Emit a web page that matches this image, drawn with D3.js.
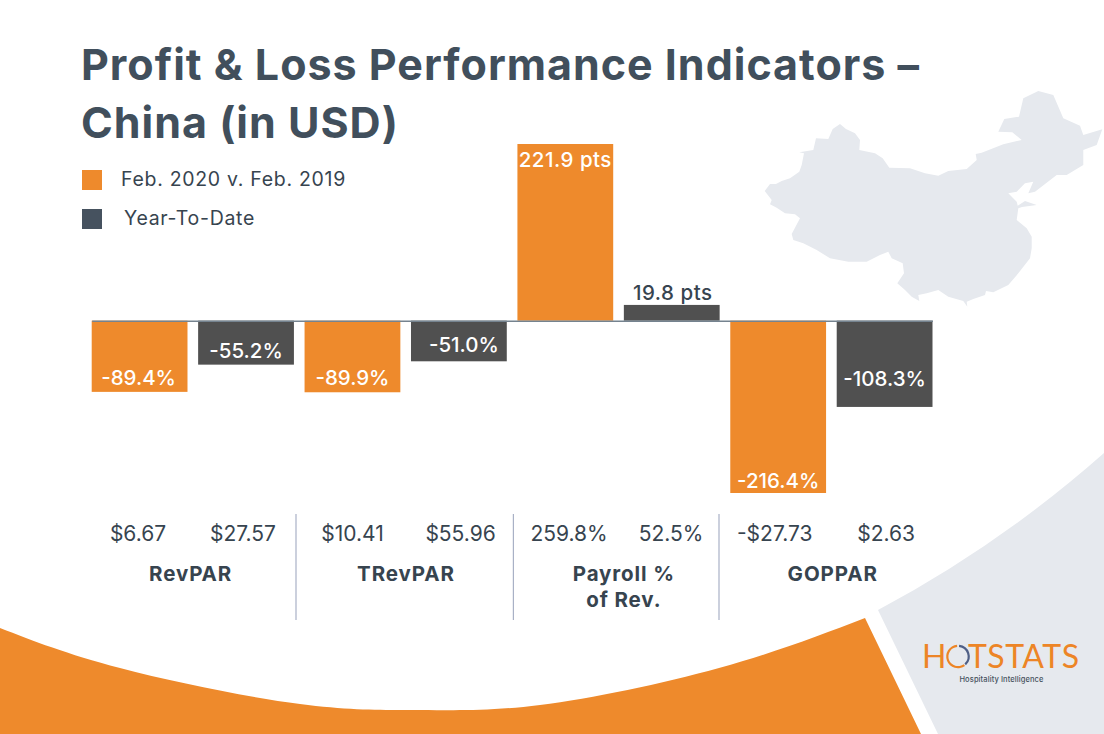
<!DOCTYPE html>
<html>
<head>
<meta charset="utf-8">
<script src="https://d3js.org/d3.v7.min.js"></script>
<style>
  html, body { margin: 0; padding: 0; background: #fff; }
  svg { display: block; }
  text { font-family: Inter, "Open Sans", sans-serif; }
</style>
</head>
<body>
<div id="chart"></div>
<script>
// chart values, in drawing order
var barKeys = ["RevPAR Feb", "RevPAR YTD", "TRevPAR Feb", "TRevPAR YTD", "Payroll Feb", "Payroll YTD", "GOPPAR Feb", "GOPPAR YTD"];
var barValues = [-89.4, -55.2, -89.9, -51.0, 221.9, 19.8, -216.4, -108.3];
var barLabels = ["-89.4%", "-55.2%", "-89.9%", "-51.0%", "221.9 pts", "19.8 pts", "-216.4%", "-108.3%"];
var actualLabels = ["$6.67", "$27.57", "$10.41", "$55.96", "259.8%", "52.5%", "-$27.73", "$2.63"];
var metricNames = [["RevPAR"], ["TRevPAR"], ["Payroll %", "of Rev."], ["GOPPAR"]];
var legendNames = ["Feb. 2020 v. Feb. 2019", "Year-To-Date"];
var titleLines = ["Profit & Loss Performance Indicators –", "China (in USD)"];

// china outline (background decoration, not data)
var chinaOutline = [[764.7,191],[770,184],[776,184],[781.7,181],[790,178.3],[799.3,171.7],[801.7,165],[804,153.3],[799.3,152.3],[813.3,150],[816,138.3],[828.3,139],[832.7,129],[840,124],[846,129],[855,133.3],[860,140],[859.3,150],[875,153.3],[882.7,158.3],[889.3,167.7],[910,168.3],[925,173.3],[938.3,175.7],[948.3,171],[966.7,169],[976.7,160],[975.7,154],[981.7,152.7],[1003.3,144.3],[1021.7,140],[1012.3,132.3],[998.3,131.7],[1004.3,119],[1019,116.7],[1023.3,98.3],[1038.3,91],[1053.3,95],[1063.3,118.3],[1080,125.7],[1083.3,135],[1102.3,129.3],[1096.7,145],[1083.3,150],[1083.3,165],[1066.7,175],[1056.7,175],[1035,191.7],[1028.3,193.3],[1033.3,181.7],[1025,183.3],[1016.7,191.7],[1008.3,193.3],[1016.7,201.7],[1017.7,205.7],[1025,201],[1036.7,205],[1022,207],[1018.3,208.3],[1016.7,220],[1026.7,228.3],[1031.7,236.7],[1031.7,248.3],[1030,258.3],[1018.3,273.3],[1008.3,285],[993.3,292.3],[986,291],[985,295],[973.3,299],[966.7,301.7],[967.3,306.7],[963.3,301],[948.3,296.7],[938.3,290],[926.7,293.3],[918.3,295],[919.3,301],[911.7,296.7],[905,290],[897.3,283.3],[904,273.3],[902.7,263.3],[891.7,258.3],[888.3,251.7],[880,255],[866.7,261.7],[848.3,261.7],[830,258.3],[816.7,250],[803.3,243.3],[793.3,240],[791.7,234],[800,218.3],[795,214.3],[785,213.3],[776.7,207.7],[770,204.3],[771.7,200]];
var orangeCurve = [[0,628],[120,668],[300,704],[420,710],[540,705],[719,668],[865,618]];

var orange = "#ee8a2c", dark = "#505050", slate = "#414f5c", ink = "#37444f", pale = "#e6e9ee";

var width = 1104, height = 734;

var svg = d3.select("#chart").append("svg")
    .attr("width", width)
    .attr("height", height);

// background shapes
svg.append("path")
    .attr("d", "M878,610 Q1000,545 1104,453 L1104,734 L938,734 Z")
    .attr("fill", pale);

svg.append("path")
    .attr("d", d3.line().curve(d3.curveNatural)(orangeCurve) + "L921,734L0,734Z")
    .attr("fill", orange);

svg.append("path")
    .attr("d", d3.line().curve(d3.curveLinear)(chinaOutline) + "Z")
    .attr("fill", pale);

// title
svg.selectAll(".title")
    .data(titleLines)
    .enter().append("text")
    .attr("class", "title")
    .attr("x", 81)
    .attr("y", function(d, i) { return i == 0 ? 80 : 138; })
    .attr("fill", slate)
    .style("font-size", "43px")
    .style("font-weight", 700)
    .style("letter-spacing", "1px")
    .text(function(d) { return d; });

// legend
var legend = svg.selectAll(".legend")
    .data(legendNames)
    .enter().append("g")
    .attr("class", "legend")
    .attr("transform", function(d, i) { return "translate(82," + (170 + i * 39) + ")"; });

legend.append("rect")
    .attr("width", 20)
    .attr("height", 20)
    .attr("fill", function(d, i) { return i == 0 ? orange : "#46525f"; });

legend.append("text")
    .attr("x", function(d, i) { return i == 0 ? 39 : 42; })
    .attr("y", 16)
    .attr("fill", ink)
    .style("font-size", "19.5px")
    .style("letter-spacing", "0.7px")
    .text(function(d) { return d; });

// scales
var x = d3.scaleBand()
    .domain(barKeys)
    .range([91.7, 932.5])
    .paddingInner(0.1);

var y = d3.scaleLinear()
    .domain([-216.4, 221.9])
    .range([493, 144]);

// bars
svg.selectAll(".bar")
    .data(barValues)
    .enter().append("rect")
    .attr("class", "bar")
    .attr("x", function(d, i) { return x(barKeys[i]); })
    .attr("width", x.bandwidth())
    .attr("y", function(d) { return y(Math.max(d, 0)); })
    .attr("height", function(d) { return Math.abs(y(d) - y(0)); })
    .attr("fill", function(d, i) { return i % 2 == 0 ? orange : dark; });

// zero line, no ticks
svg.append("g")
    .attr("transform", "translate(0," + y(0) + ")")
    .call(d3.axisBottom(x).tickValues([]).tickSizeOuter(0))
    .select(".domain")
    .attr("stroke", "#75838f")
    .attr("stroke-width", 1.5);

// how far each baseline sits from the end of its bar, they are not consistent in the original
var labelGap = [7, 7, 7, 9, -23, 5, 5, 21];
var labelShift = [-1, 0, 0, 5, 0, 1, 0, 0];

svg.selectAll(".barlabel")
    .data(barLabels)
    .enter().append("text")
    .attr("class", "barlabel")
    .attr("x", function(d, i) { return x(barKeys[i]) + x.bandwidth() / 2 + labelShift[i]; })
    .attr("y", function(d, i) { return y(barValues[i]) - labelGap[i]; })
    .attr("text-anchor", "middle")
    .attr("fill", function(d, i) { return i == 5 ? ink : "#fff"; })
    .style("font-size", "20.5px")
    .style("font-weight", 500)
    .style("letter-spacing", function(d) { return d.indexOf("pts") > 0 ? "0.5px" : "0"; })
    .text(function(d) { return d; });

// actual values under the bars, nudged to where the original has them
var actualShift = [-1.6, -3, 0, 1.7, 3.8, -0.6, -3.5, 1.6];

svg.selectAll(".actual")
    .data(actualLabels)
    .enter().append("text")
    .attr("class", "actual")
    .attr("x", function(d, i) { return x(barKeys[i]) + x.bandwidth() / 2 + actualShift[i]; })
    .attr("y", 541)
    .attr("text-anchor", "middle")
    .attr("fill", ink)
    .style("font-size", "21px")
    .text(function(d) { return d; });

// metric names, each roughly centred under its pair of bars
var metricShift = [-7.5, -5, 0, -4];

var names = svg.selectAll(".metric")
    .data(metricNames)
    .enter().append("text")
    .attr("class", "metric")
    .attr("text-anchor", "middle")
    .attr("fill", ink)
    .style("font-size", "20.5px")
    .style("font-weight", 700)
    .style("letter-spacing", "0.9px");

names.selectAll("tspan")
    .data(function(d, i) { return d.map(function(t) { return {t: t, i: i}; }); })
    .enter().append("tspan")
    .attr("x", function(d) { return x(barKeys[d.i * 2 + 1]) + metricShift[d.i]; })
    .attr("y", function(d, j) { return 581 + j * 26; })
    .text(function(d) { return d.t; });

// dividers
svg.selectAll(".divider")
    .data([296, 513.4, 719])
    .enter().append("line")
    .attr("class", "divider")
    .attr("x1", function(d) { return d; })
    .attr("x2", function(d) { return d; })
    .attr("y1", 514)
    .attr("y2", 620)
    .attr("stroke", "#a9b1c6")
    .attr("stroke-width", 1.2);

// logo, the O is two arcs so it gets drawn apart from the letters
var logo = svg.append("g").attr("fill", "#ed8526");

logo.append("text")
    .attr("x", 922)
    .attr("y", 667.5)
    .style("font-family", "Lato")
    .style("font-size", "32px")
    .text("H");

logo.append("text")
    .attr("x", 968)
    .attr("y", 667.5)
    .attr("textLength", 111)
    .attr("lengthAdjust", "spacing")
    .style("font-family", "Lato")
    .style("font-size", "32px")
    .text("TSTATS");

var logoArc = d3.arc().innerRadius(9.6).outerRadius(11.8);

logo.append("path")
    .attr("transform", "translate(958,656.5)")
    .attr("d", logoArc.startAngle(2.5).endAngle(6.2)());

logo.append("path")
    .attr("transform", "translate(958,656.5)")
    .attr("fill", "#4f5f86")
    .attr("d", logoArc.startAngle(0.1).endAngle(2.4)());

svg.append("text")
    .attr("x", 1001.5)
    .attr("y", 681.5)
    .attr("text-anchor", "middle")
    .attr("fill", "#47525e")
    .style("font-size", "7.5px")
    .style("font-weight", 500)
    .style("letter-spacing", "0.1px")
    .text("Hospitality Intelligence");
</script>
</body>
</html>
